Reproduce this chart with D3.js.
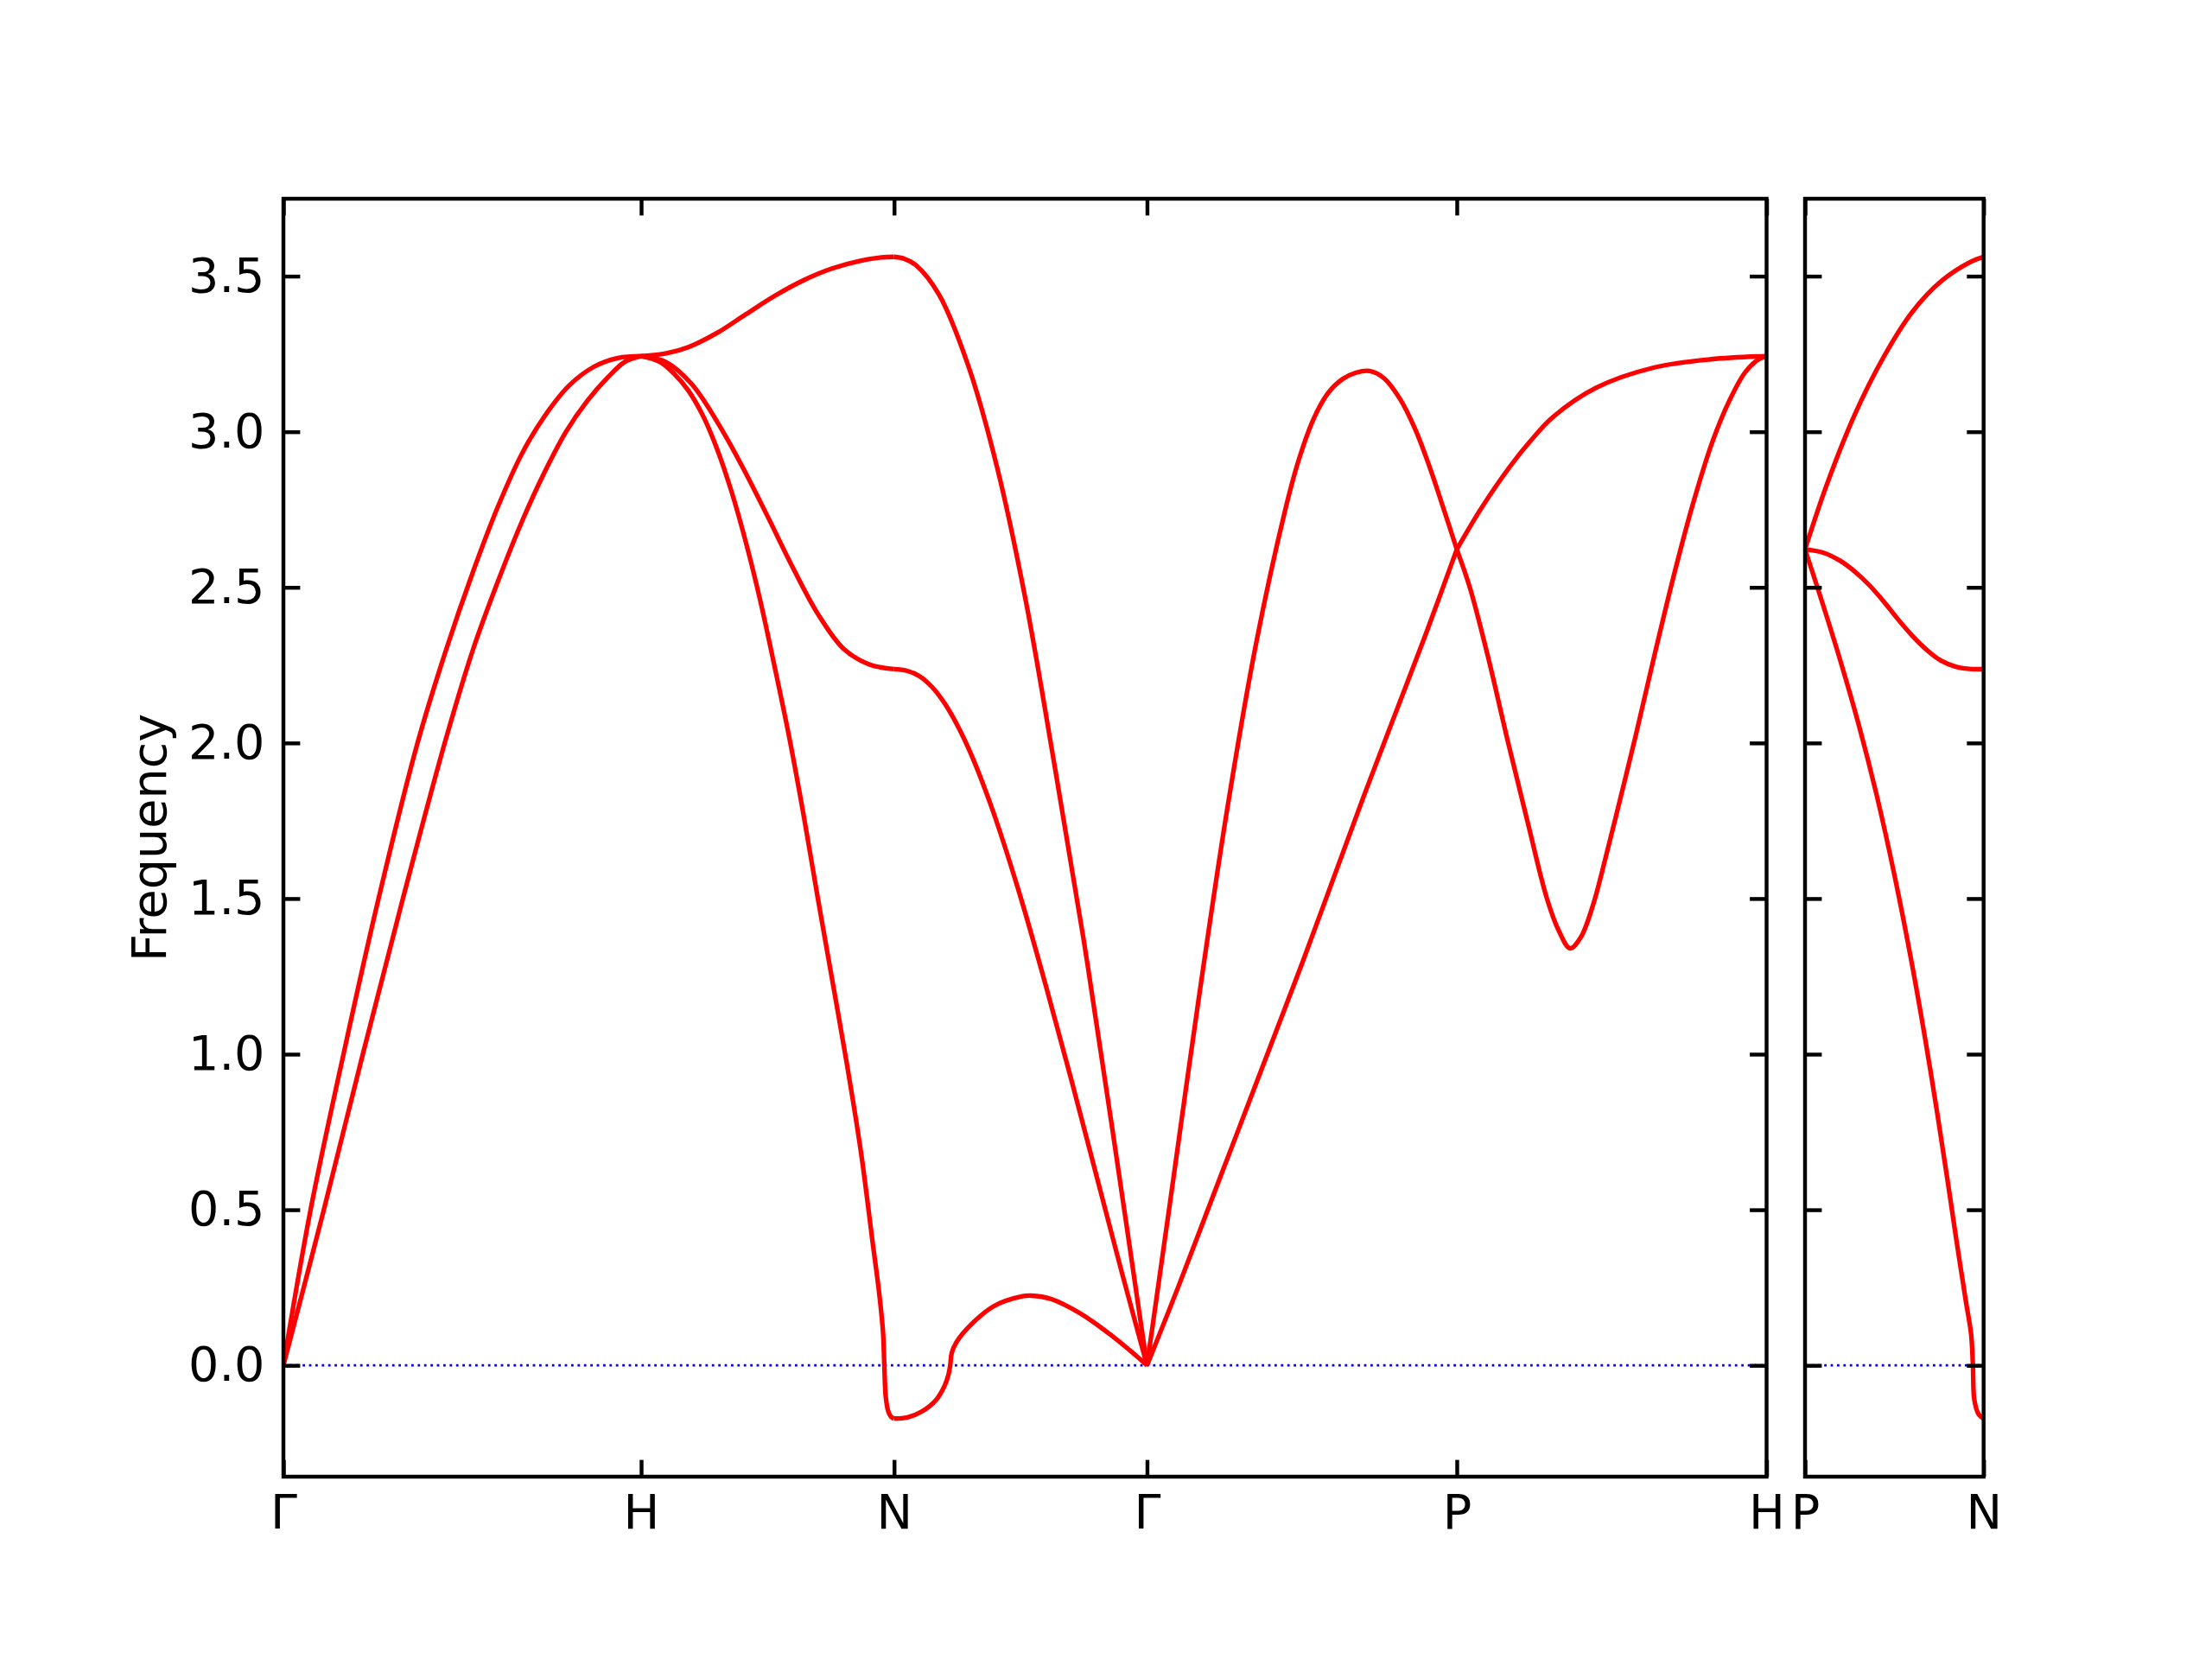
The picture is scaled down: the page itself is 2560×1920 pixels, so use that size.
<!DOCTYPE html>
<html>
<head>
<meta charset="utf-8">
<script src="https://cdn.jsdelivr.net/npm/d3@7"></script>
<style>
  html, body { margin: 0; padding: 0; background: #ffffff; }
  svg { display: block; }
</style>
</head>
<body>
<svg id="chart" width="2560" height="1920"></svg>
<script>
// ---------------- DATA ----------------
const kLabels = ["Γ", "H", "N", "Γ", "P", "H"];
const segLen = [1.0, 0.7071, 0.7071, 0.8660, 0.8660];
const pnLabels = ["P", "N"];
const pnLen = 0.5;
const yTicks = [0.0, 0.5, 1.0, 1.5, 2.0, 2.5, 3.0, 3.5];
const yDomain = [-0.3577, 3.7487];

// each series: [fraction along segment, frequency]
// Γ -> H
const GH_upper = [[0,0],[0.076,0.5],[0.168,1.0],[0.266,1.5],[0.375,2.0],[0.455,2.3],[0.53,2.55],[0.6,2.76],[0.667,2.93],[0.73,3.05],[0.8,3.15],[0.87,3.21],[0.935,3.237],[1,3.243]];
const GH_lower = [[0,0],[0.113,0.5],[0.222,1.0],[0.334,1.5],[0.451,2.0],[0.53,2.3],[0.6,2.52],[0.67,2.72],[0.73,2.87],[0.79,3.0],[0.85,3.1],[0.907,3.175],[0.955,3.225],[1,3.243]];
// H -> N
const HN_top = [[0,3.243],[0.1,3.252],[0.187,3.272],[0.301,3.318],[0.415,3.378],[0.529,3.437],[0.643,3.487],[0.757,3.525],[0.87,3.55],[0.95,3.56],[1,3.562]];
const HN_mid = [[0,3.243],[0.1,3.223],[0.2,3.153],[0.3,3.033],[0.4,2.888],[0.5,2.728],[0.6,2.563],[0.7,2.413],[0.8,2.303],[0.9,2.253],[1,2.237]];
const HN_low = [[0,3.243],[0.073,3.225],[0.13,3.187],[0.187,3.132],[0.244,3.052],[0.301,2.943],[0.358,2.806],[0.415,2.642],[0.472,2.454],[0.529,2.24],[0.586,2.016],[0.643,1.765],[0.699,1.499],[0.756,1.236],[0.813,0.971],[0.87,0.68],[0.916,0.39],[0.94,0.24],[0.956,0.11],[0.9615,0.0],[0.967,-0.1],[0.977,-0.148],[0.988,-0.165],[1,-0.171]];
// N -> Γ
const NG_top = [[0,3.562],[0.04,3.556],[0.087,3.535],[0.178,3.44],[0.292,3.215],[0.406,2.89],[0.52,2.46],[0.634,1.93],[0.748,1.375],[0.861,0.77],[1,0]];
const NG_mid = [[0,2.237],[0.05,2.232],[0.1,2.215],[0.15,2.18],[0.2,2.127],[0.25,2.057],[0.3,1.972],[0.35,1.872],[0.4,1.76],[0.5,1.505],[0.6,1.22],[0.7,0.92],[0.8,0.61],[0.9,0.3],[1,0]];
const NG_low = [[0,-0.171],[0.053,-0.167],[0.11,-0.148],[0.166,-0.111],[0.2,-0.065],[0.215,-0.03],[0.222,0.0],[0.228,0.04],[0.246,0.074],[0.303,0.13],[0.394,0.19],[0.508,0.222],[0.542,0.224],[0.622,0.213],[0.736,0.167],[0.85,0.102],[0.941,0.042],[1,0]];
// Γ -> P
const GP_upper = [[0,0],[0.073,0.514],[0.166,1.172],[0.259,1.788],[0.352,2.319],[0.445,2.744],[0.49,2.91],[0.538,3.042],[0.585,3.125],[0.631,3.169],[0.675,3.19],[0.719,3.195],[0.765,3.172],[0.817,3.105],[0.865,3.01],[0.91,2.893],[0.955,2.76],[1,2.622]];
const GP_lower = [[0,0],[0.1,0.25],[0.2,0.51],[0.3,0.77],[0.4,1.03],[0.5,1.29],[0.6,1.56],[0.7,1.83],[0.8,2.09],[0.9,2.35],[1,2.622]];
// P -> H
const PH_upper = [[0,2.622],[0.077,2.751],[0.17,2.886],[0.24,2.973],[0.31,3.047],[0.449,3.141],[0.635,3.206],[0.821,3.233],[1,3.243]];
const PH_lower = [[0,2.622],[0.042,2.5],[0.1,2.28],[0.166,2.0],[0.23,1.74],[0.291,1.5],[0.33,1.395],[0.366,1.34],[0.4,1.375],[0.44,1.48],[0.48,1.63],[0.53,1.83],[0.579,2.03],[0.64,2.29],[0.696,2.52],[0.76,2.76],[0.826,2.97],[0.88,3.1],[0.93,3.19],[0.97,3.23],[1,3.243]];
// P -> N (second panel)
const PN_top = [[0,2.622],[0.118,2.824],[0.279,3.056],[0.44,3.24],[0.602,3.386],[0.763,3.484],[0.924,3.545],[1,3.562]];
const PN_mid = [[0,2.622],[0.1,2.612],[0.198,2.585],[0.28,2.55],[0.36,2.507],[0.44,2.455],[0.521,2.397],[0.6,2.345],[0.682,2.299],[0.76,2.265],[0.844,2.245],[0.92,2.238],[1,2.237]];
const PN_low = [[0,2.622],[0.1,2.445],[0.2,2.26],[0.3,2.06],[0.4,1.835],[0.5,1.577],[0.6,1.285],[0.7,0.955],[0.8,0.587],[0.85,0.393],[0.9,0.208],[0.93,0.1],[0.94,0.0],[0.948,-0.111],[0.972,-0.157],[1,-0.171]];

const mainSegments = [
  [GH_upper, GH_lower],
  [HN_top, HN_mid, HN_low],
  [NG_top, NG_mid, NG_low],
  [GP_upper, GP_lower],
  [PH_upper, PH_lower]
];
const pnSeries = [PN_top, PN_mid, PN_low];

// ---------------- LAYOUT ----------------
const W = 2560, H = 1920;
const mainBox = {left: 328, right: 2044.5, top: 230, bottom: 1709};
const pnBox = {left: 2089, right: 2295.7, top: 230, bottom: 1709};
const FONT = "'DejaVu Sans', sans-serif";
const FS = 55.6;
const tickLen = 19.4;
const spineW = 4.44;
const lineW = 5.3;

const svg = d3.select("#chart");
svg.append("rect").attr("width", W).attr("height", H).attr("fill", "#ffffff");

const segStarts = [0];
segLen.forEach((l, i) => segStarts.push(segStarts[i] + l));
const totalLen = segStarts[segStarts.length - 1];

const xMain = d3.scaleLinear().domain([0, totalLen]).range([mainBox.left, mainBox.right]);
const xPN = d3.scaleLinear().domain([0, pnLen]).range([pnBox.left, pnBox.right]);
const y = d3.scaleLinear().domain(yDomain).range([mainBox.bottom, mainBox.top]);

function drawPanel(box, xScale, xTickVals, xTickLabels, showYLabels, seriesList) {
  const g = svg.append("g");
  const clipId = "clip" + Math.round(box.left);
  svg.append("clipPath").attr("id", clipId)
    .append("rect").attr("x", box.left).attr("y", box.top)
    .attr("width", box.right - box.left).attr("height", box.bottom - box.top);

  // zero line
  g.append("line")
    .attr("x1", box.left).attr("x2", box.right)
    .attr("y1", y(0)).attr("y2", y(0))
    .attr("stroke", "#0000ff").attr("stroke-width", 2.8)
    .attr("stroke-dasharray", "2.8,4.6");

  // curves
  const plot = g.append("g").attr("clip-path", `url(#${clipId})`);
  seriesList.forEach(s => {
    const line = d3.line()
      .x(d => xScale(s.start + d[0] * s.len))
      .y(d => y(d[1]))
      .curve(d3.curveCatmullRom.alpha(0.5));
    plot.append("path")
      .attr("d", line(s.data))
      .attr("fill", "none")
      .attr("stroke", "#ff0000")
      .attr("stroke-width", lineW)
      .attr("stroke-linejoin", "round")
      .attr("stroke-linecap", "butt");
  });

  // axes (inward ticks)
  const left = d3.axisLeft(y).tickValues(yTicks).tickSizeInner(-tickLen).tickSizeOuter(0).tickPadding(21.5)
    .tickFormat(showYLabels ? d3.format(".1f") : () => "");
  const right = d3.axisRight(y).tickValues(yTicks).tickSizeInner(-tickLen).tickSizeOuter(0).tickFormat(() => "");
  const bottom = d3.axisBottom(xScale).tickValues(xTickVals).tickSizeInner(-tickLen).tickSizeOuter(0).tickPadding(20.5)
    .tickFormat((d, i) => xTickLabels[i]);
  const top = d3.axisTop(xScale).tickValues(xTickVals).tickSizeInner(-tickLen).tickSizeOuter(0).tickFormat(() => "");

  const axes = [
    g.append("g").attr("transform", `translate(${box.left},0)`).call(left),
    g.append("g").attr("transform", `translate(${box.right},0)`).call(right),
    g.append("g").attr("transform", `translate(0,${box.bottom})`).call(bottom),
    g.append("g").attr("transform", `translate(0,${box.top})`).call(top)
  ];
  axes.forEach(a => {
    a.select(".domain").remove();
    a.selectAll(".tick line").attr("stroke", "#000").attr("stroke-width", spineW);
    a.selectAll(".tick text").attr("fill", "#000").attr("font-family", FONT).attr("font-size", FS);
  });

  // spines
  g.append("rect")
    .attr("x", box.left).attr("y", box.top)
    .attr("width", box.right - box.left).attr("height", box.bottom - box.top)
    .attr("fill", "none").attr("stroke", "#000").attr("stroke-width", spineW)
    .attr("stroke-linejoin", "miter");
}

const mainSeriesList = [];
mainSegments.forEach((seg, i) => {
  seg.forEach(data => mainSeriesList.push({data, start: segStarts[i], len: segLen[i]}));
});
const pnSeriesList = pnSeries.map(data => ({data, start: 0, len: pnLen}));

drawPanel(mainBox, xMain, segStarts, kLabels, true, mainSeriesList);
drawPanel(pnBox, xPN, [0, pnLen], pnLabels, false, pnSeriesList);

// y label
svg.append("text")
  .attr("transform", `translate(192,${(mainBox.top + mainBox.bottom) / 2}) rotate(-90)`)
  .attr("text-anchor", "middle")
  .attr("font-family", FONT)
  .attr("font-size", FS)
  .attr("fill", "#000")
  .text("Frequency");
</script>
</body>
</html>
